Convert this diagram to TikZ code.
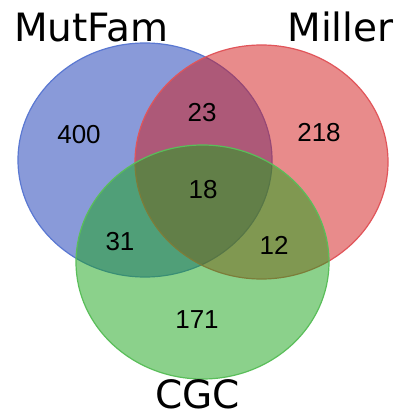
\documentclass[tikz,border=0pt]{standalone}
\usepackage{fontspec}
\newfontfamily\titlefont{DejaVu Sans}
\newfontfamily\numfont{Liberation Sans}
\definecolor{bluebase}{RGB}{20,55,180}
\definecolor{blueedge}{RGB}{90,120,210}
\definecolor{redbase}{RGB}{210,25,25}
\definecolor{rededge}{RGB}{225,85,90}
\definecolor{greenbase}{RGB}{25,165,25}
\definecolor{greenedge}{RGB}{90,190,90}
\tikzset{
  setA/.style={fill=bluebase,fill opacity=0.5,draw=blueedge,line width=1.2pt},
  setB/.style={fill=redbase,fill opacity=0.5,draw=rededge,line width=1.2pt},
  setC/.style={fill=greenbase,fill opacity=0.5,draw=greenedge,line width=1.2pt},
  title/.style={font=\titlefont\fontsize{39}{45}\selectfont,inner sep=0pt,text=black},
  count/.style={font=\numfont\fontsize{26}{30}\selectfont,inner sep=0pt,text=black}
}
\begin{document}
\begin{tikzpicture}[x=1pt,y=-1pt]
\useasboundingbox (0,0) rectangle (399,414);
\fill[white] (0,0) rectangle (399,414);
\draw[setA] (145,160) ellipse [x radius=127,y radius=117];
\draw[setB] (261.5,162) ellipse [x radius=126.5,y radius=117];
\draw[setC] (202.5,262) ellipse [x radius=126.5,y radius=117];
\node[title,anchor=base] (tA) at (91.5,42) {MutFam};
\node[title,anchor=base] (tB) at (340.5,42) {Miller};
\node[title,anchor=base] (tC) at (197.5,408) {CGC};
\node[count] (n400) at (79,135) {400};
\node[count] (n23) at (202,113) {23};
\node[count] (n218) at (319,133) {218};
\node[count] (n18) at (203,190) {18};
\node[count] (n31) at (120,242) {31};
\node[count] (n12) at (274,245) {12};
\node[count] (n171) at (197,320) {171};
\end{tikzpicture}
\end{document}
